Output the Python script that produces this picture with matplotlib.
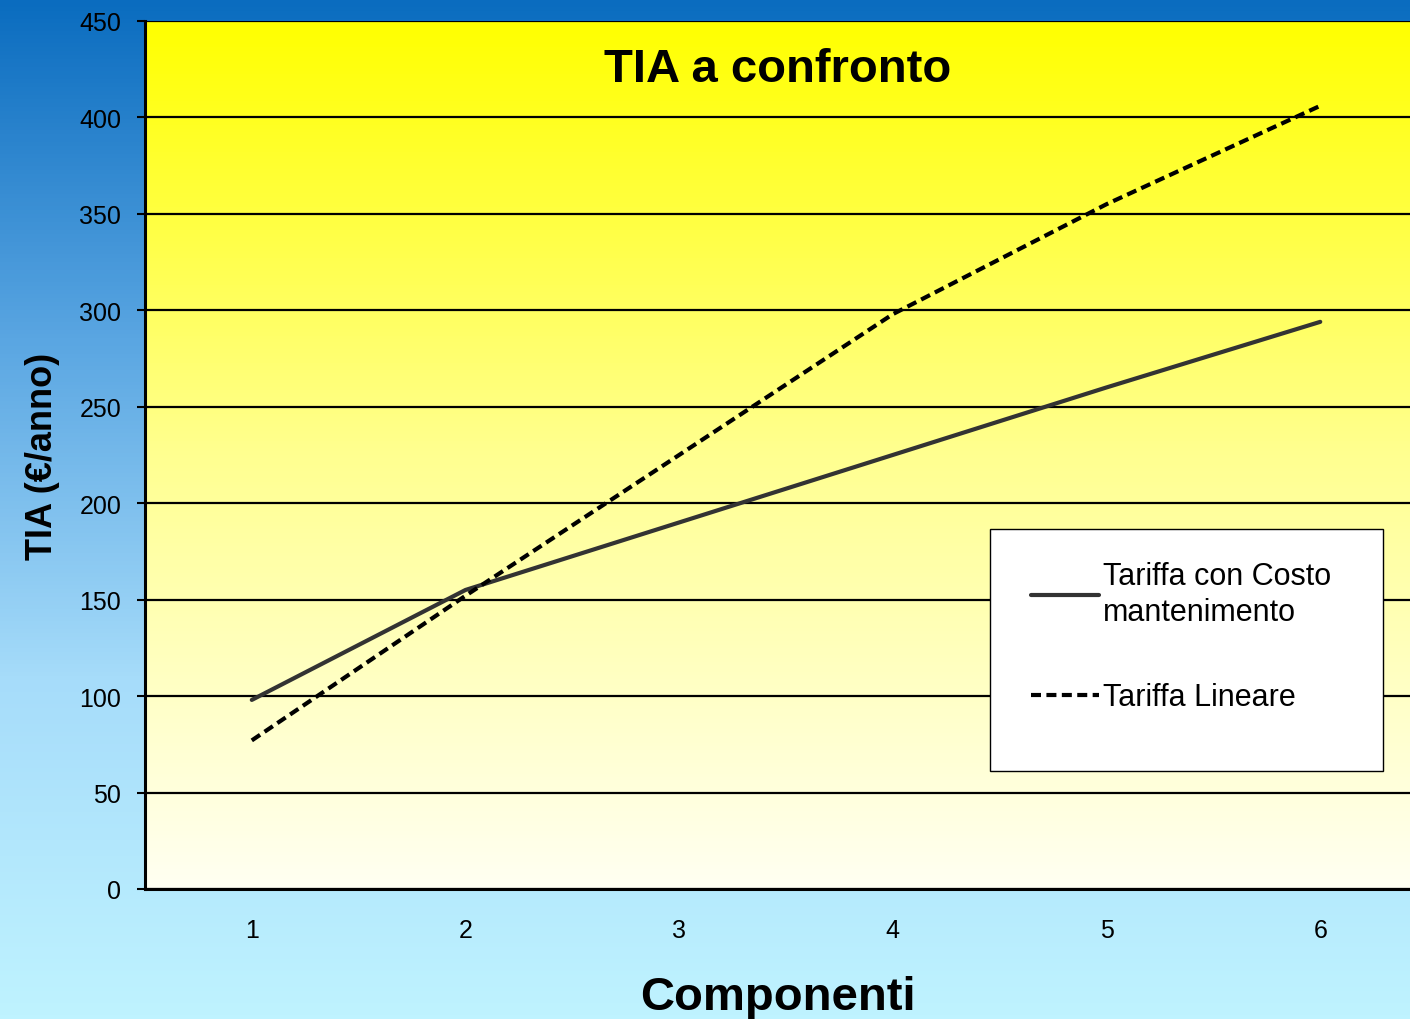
import matplotlib.pyplot as plt
import numpy as np
from matplotlib.colors import LinearSegmentedColormap
from matplotlib.patches import Rectangle

plt.rcParams["font.family"] = ["Liberation Sans", "DejaVu Sans"]

# Data
componenti = [1, 2, 3, 4, 5, 6]
tariffa_costo = [98, 155, 190, 225, 260, 294]
tariffa_lineare = [77, 152, 225, 298, 355, 406]
y_ticks = [0, 50, 100, 150, 200, 250, 300, 350, 400, 450]

fig = plt.figure(figsize=(14.1, 10.2), dpi=100)

# Blue background gradient for the whole figure
bg = fig.add_axes([0, 0, 1, 1], zorder=-10)
bg_cmap = LinearSegmentedColormap.from_list(
    "bg", ["#bff3ff", "#a6dcfa", "#5aa6e2", "#0a6cbf"]
)
bg.imshow(np.linspace(0, 1, 256).reshape(-1, 1), aspect="auto", cmap=bg_cmap,
          origin="lower", extent=[0, 1, 0, 1])
bg.axis("off")

ax = fig.add_axes([0.1028, 0.1275, 0.8972, 0.851])

# Yellow gradient for the plotting area
ax_cmap = LinearSegmentedColormap.from_list("plot", ["#fffff2", "#ffff90", "#ffff00"])
ax.imshow(np.linspace(0, 1, 256).reshape(-1, 1), aspect="auto", cmap=ax_cmap,
          origin="lower", extent=[0, 1, 0, 1], transform=ax.transAxes, zorder=0)

ax.plot(componenti, tariffa_costo, color="#333333", lw=3, zorder=3,
        solid_capstyle="round", label="Tariffa con Costo\nmantenimento")
ax.plot(componenti, tariffa_lineare, color="black", lw=3, zorder=3,
        dashes=(2.4, 1.3), label="Tariffa Lineare")

ax.set_xlim(0.5, 6.42)
ax.set_ylim(0, 450)
ax.set_yticks(y_ticks)
ax.set_xticks(componenti)
ax.tick_params(axis="x", length=0, pad=21, labelsize=18)
ax.tick_params(axis="y", length=6, width=1.5, pad=11, labelsize=18)
ax.grid(axis="y", color="black", lw=1.6, zorder=1)

ax.spines["top"].set_visible(False)
ax.spines["right"].set_visible(False)
ax.spines["left"].set_linewidth(2.2)
ax.spines["bottom"].set_linewidth(2.2)
ax.spines["left"].set_zorder(4)
ax.spines["bottom"].set_zorder(4)

ax.text(0.5, 0.945, "TIA a confronto", transform=ax.transAxes, ha="center",
        va="center", fontsize=34, fontweight="bold", zorder=5)
ax.set_xlabel("Componenti", fontsize=34, fontweight="bold", labelpad=24)
ax.set_ylabel("TIA (€/anno)", fontsize=26, fontweight="bold", labelpad=14)

# Legend box
ax.add_patch(Rectangle((0.668, 0.136), 0.311, 0.279, transform=ax.transAxes,
                       facecolor="white", edgecolor="black", lw=1, zorder=5))
leg = ax.legend(loc="upper left", bbox_to_anchor=(0.679, 0.41), frameon=False,
                fontsize=22, handlelength=2.2, handletextpad=0.15,
                labelspacing=1.8)
leg.set_zorder(6)
for t in leg.get_texts():
    t.set_linespacing(1.3)

fig.savefig("out.png", dpi=100)
